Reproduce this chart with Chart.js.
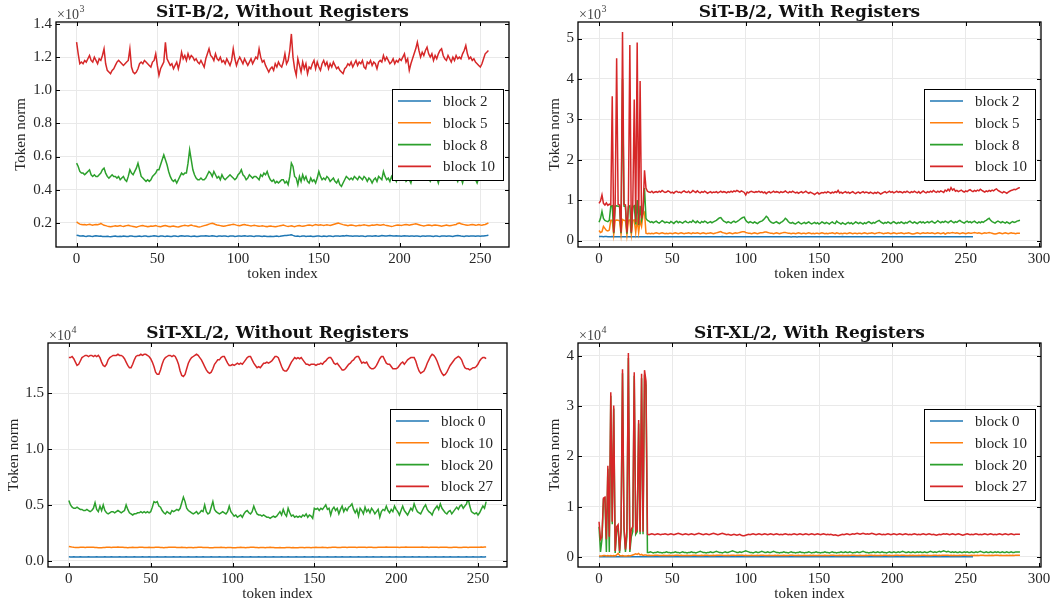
<!DOCTYPE html>
<html><head><meta charset="utf-8">
<script src="https://cdn.jsdelivr.net/npm/chart.js@4.4.1/dist/chart.umd.min.js"></script>
<style>
html,body{margin:0;padding:0;background:#fff;}
#wrap{position:relative;width:1058px;height:607px;overflow:hidden;background:#fff;}
canvas{position:absolute;left:0;top:0;}
</style></head><body>
<div id="wrap">
<canvas id="c1" width="1058" height="607"></canvas>
<canvas id="c2" width="1058" height="607"></canvas>
<canvas id="c3" width="1058" height="607"></canvas>
<canvas id="c4" width="1058" height="607"></canvas>
</div>
<script>
// ---------------- DATA (token norms, in the units shown on each axis) ----------------
const legendB = ['block 2','block 5','block 8','block 10'];
const legendXL = ['block 0','block 10','block 20','block 27'];
const xTicks256 = [0,50,100,150,200,250];
const xTicks288 = [0,50,100,150,200,250,300];
const yTicks1 = [0.2,0.4,0.6,0.8,1.0,1.2,1.4];
const yTicks2 = [0,1,2,3,4,5];
const yTicks3 = [0.0,0.5,1.0,1.5];
const yTicks4 = [0,1,2,3,4];

// SiT-B/2 without registers (x10^3)
const b1Block2 = [0.125,0.123,0.121,0.120,0.122,0.119,0.118,0.120,0.121,0.119,0.118,0.120,0.122,0.121,0.119,0.120,
0.118,0.117,0.118,0.119,0.117,0.116,0.118,0.119,0.120,0.118,0.117,0.119,0.118,0.120,0.119,0.117,
0.118,0.120,0.121,0.119,0.118,0.117,0.119,0.120,0.118,0.119,0.121,0.120,0.118,0.117,0.119,0.120,
0.122,0.121,0.119,0.118,0.120,0.121,0.119,0.118,0.120,0.119,0.117,0.118,0.120,0.121,0.119,0.118,
0.120,0.122,0.121,0.119,0.120,0.121,0.119,0.118,0.119,0.120,0.118,0.117,0.119,0.120,0.121,0.120,
0.122,0.121,0.119,0.120,0.122,0.121,0.119,0.118,0.120,0.121,0.119,0.120,0.121,0.119,0.118,0.120,
0.121,0.120,0.118,0.119,0.121,0.120,0.119,0.121,0.122,0.120,0.119,0.120,0.121,0.119,0.118,0.120,
0.121,0.120,0.119,0.118,0.120,0.119,0.118,0.117,0.119,0.118,0.117,0.119,0.120,0.118,0.119,0.121,
0.122,0.123,0.124,0.125,0.126,0.128,0.124,0.121,0.119,0.120,0.118,0.119,0.121,0.120,0.118,0.119,
0.119,0.120,0.118,0.117,0.119,0.120,0.121,0.119,0.118,0.120,0.119,0.118,0.120,0.121,0.119,0.118,
0.120,0.121,0.120,0.119,0.121,0.122,0.121,0.123,0.122,0.120,0.121,0.119,0.120,0.121,0.120,0.119,
0.120,0.121,0.119,0.118,0.120,0.121,0.120,0.119,0.121,0.122,0.120,0.119,0.121,0.123,0.122,0.120,
0.121,0.122,0.123,0.122,0.121,0.120,0.122,0.121,0.120,0.119,0.121,0.122,0.121,0.120,0.119,0.121,
0.120,0.119,0.121,0.120,0.119,0.118,0.120,0.121,0.119,0.120,0.121,0.120,0.119,0.118,0.120,0.121,
0.119,0.118,0.120,0.121,0.120,0.119,0.121,0.120,0.119,0.118,0.120,0.122,0.124,0.122,0.120,0.119,
0.118,0.120,0.121,0.119,0.120,0.121,0.120,0.119,0.121,0.120,0.119,0.120,0.121,0.122,0.123,0.125];
const b1Block5 = [0.205,0.198,0.192,0.190,0.188,0.190,0.187,0.189,0.191,0.188,0.186,0.189,0.190,0.188,0.191,0.196,
0.190,0.185,0.183,0.180,0.178,0.176,0.178,0.180,0.182,0.179,0.181,0.183,0.180,0.178,0.181,0.183,
0.185,0.182,0.180,0.178,0.176,0.174,0.177,0.180,0.182,0.184,0.181,0.179,0.177,0.178,0.180,0.179,
0.181,0.183,0.180,0.178,0.176,0.179,0.182,0.184,0.181,0.178,0.177,0.179,0.180,0.178,0.176,0.175,
0.178,0.181,0.183,0.185,0.183,0.181,0.184,0.186,0.183,0.181,0.179,0.176,0.175,0.177,0.180,0.183,
0.185,0.188,0.192,0.195,0.197,0.194,0.190,0.187,0.185,0.183,0.181,0.179,0.181,0.183,0.185,0.187,
0.189,0.191,0.189,0.186,0.184,0.182,0.185,0.188,0.190,0.187,0.185,0.183,0.181,0.183,0.185,0.183,
0.181,0.179,0.180,0.182,0.180,0.178,0.177,0.179,0.181,0.179,0.178,0.176,0.178,0.180,0.182,0.184,
0.186,0.183,0.180,0.178,0.180,0.182,0.179,0.177,0.180,0.182,0.184,0.181,0.179,0.181,0.183,0.185,
0.187,0.185,0.183,0.186,0.189,0.187,0.185,0.188,0.186,0.184,0.186,0.188,0.186,0.184,0.187,0.190,
0.193,0.196,0.198,0.195,0.192,0.189,0.187,0.185,0.183,0.185,0.187,0.185,0.183,0.181,0.183,0.185,
0.184,0.186,0.188,0.186,0.184,0.182,0.184,0.186,0.185,0.187,0.189,0.187,0.185,0.187,0.189,0.186,
0.184,0.182,0.180,0.178,0.180,0.183,0.185,0.187,0.186,0.184,0.186,0.188,0.190,0.188,0.186,0.188,
0.190,0.192,0.194,0.191,0.188,0.185,0.183,0.181,0.183,0.185,0.187,0.185,0.183,0.185,0.187,0.186,
0.184,0.182,0.180,0.182,0.184,0.186,0.184,0.182,0.184,0.186,0.188,0.190,0.196,0.198,0.194,0.191,
0.189,0.187,0.185,0.186,0.188,0.190,0.188,0.186,0.187,0.189,0.187,0.186,0.188,0.190,0.194,0.200];
const b1Block8 = [0.56,0.54,0.51,0.50,0.50,0.49,0.50,0.51,0.52,0.49,0.48,0.49,0.48,0.48,0.49,0.50,
0.52,0.53,0.50,0.48,0.47,0.48,0.49,0.48,0.48,0.47,0.48,0.46,0.47,0.48,0.46,0.45,
0.48,0.52,0.50,0.49,0.51,0.53,0.56,0.52,0.48,0.47,0.46,0.45,0.46,0.45,0.46,0.48,
0.49,0.50,0.52,0.52,0.55,0.58,0.61,0.58,0.55,0.51,0.48,0.46,0.45,0.46,0.44,0.46,
0.48,0.50,0.49,0.50,0.50,0.56,0.64,0.58,0.52,0.49,0.47,0.46,0.46,0.47,0.46,0.46,
0.47,0.49,0.51,0.50,0.48,0.51,0.49,0.47,0.48,0.46,0.49,0.47,0.46,0.47,0.48,0.49,
0.48,0.47,0.46,0.47,0.49,0.50,0.52,0.49,0.48,0.46,0.47,0.49,0.48,0.47,0.48,0.48,
0.47,0.46,0.49,0.48,0.50,0.49,0.51,0.48,0.46,0.45,0.46,0.44,0.45,0.44,0.45,0.46,
0.46,0.44,0.45,0.43,0.48,0.56,0.54,0.48,0.47,0.43,0.48,0.45,0.49,0.46,0.48,0.45,
0.44,0.47,0.45,0.46,0.44,0.47,0.51,0.48,0.46,0.47,0.46,0.48,0.47,0.45,0.46,0.47,
0.45,0.44,0.46,0.43,0.42,0.44,0.46,0.48,0.47,0.46,0.47,0.46,0.48,0.47,0.46,0.48,
0.47,0.46,0.48,0.47,0.45,0.47,0.46,0.44,0.46,0.47,0.45,0.48,0.47,0.46,0.51,0.48,
0.46,0.47,0.45,0.48,0.46,0.47,0.45,0.48,0.46,0.47,0.46,0.48,0.45,0.46,0.46,0.44,
0.48,0.46,0.47,0.49,0.47,0.46,0.48,0.47,0.46,0.48,0.47,0.45,0.47,0.46,0.48,0.47,
0.44,0.48,0.47,0.46,0.48,0.47,0.49,0.47,0.46,0.48,0.46,0.47,0.45,0.48,0.47,0.44,
0.48,0.47,0.46,0.48,0.47,0.49,0.47,0.46,0.44,0.47,0.46,0.48,0.47,0.46,0.48,0.47];
const b1Block10 = [1.29,1.22,1.16,1.17,1.16,1.18,1.17,1.19,1.21,1.18,1.17,1.20,1.18,1.16,1.19,1.18,
1.21,1.25,1.16,1.12,1.11,1.10,1.12,1.13,1.15,1.17,1.18,1.17,1.16,1.15,1.16,1.17,
1.18,1.25,1.14,1.11,1.10,1.11,1.13,1.16,1.17,1.16,1.18,1.17,1.16,1.15,1.14,1.17,
1.18,1.22,1.15,1.09,1.13,1.15,1.17,1.29,1.19,1.17,1.15,1.16,1.13,1.15,1.17,1.13,
1.17,1.23,1.19,1.21,1.18,1.22,1.19,1.21,1.20,1.18,1.19,1.17,1.16,1.18,1.16,1.14,
1.19,1.22,1.25,1.21,1.20,1.18,1.22,1.19,1.18,1.20,1.17,1.18,1.16,1.19,1.17,1.15,
1.18,1.25,1.19,1.15,1.18,1.20,1.18,1.16,1.19,1.17,1.15,1.17,1.19,1.16,1.18,1.20,
1.19,1.25,1.20,1.17,1.18,1.15,1.13,1.11,1.13,1.14,1.12,1.16,1.14,1.17,1.15,1.14,
1.17,1.22,1.16,1.18,1.24,1.34,1.20,1.13,1.09,1.19,1.15,1.11,1.17,1.13,1.16,1.10,
1.14,1.13,1.16,1.18,1.13,1.17,1.14,1.12,1.16,1.18,1.15,1.17,1.13,1.16,1.14,1.17,
1.15,1.13,1.14,1.12,1.11,1.10,1.13,1.14,1.16,1.15,1.17,1.14,1.16,1.18,1.15,1.17,
1.16,1.18,1.14,1.13,1.17,1.16,1.18,1.15,1.17,1.16,1.13,1.17,1.18,1.17,1.21,1.18,
1.20,1.18,1.16,1.17,1.19,1.16,1.18,1.17,1.19,1.18,1.20,1.22,1.17,1.19,1.12,1.16,
1.19,1.22,1.25,1.29,1.24,1.20,1.23,1.21,1.24,1.26,1.22,1.20,1.22,1.18,1.21,1.19,
1.22,1.24,1.25,1.21,1.19,1.18,1.21,1.19,1.17,1.20,1.18,1.21,1.19,1.20,1.19,1.22,
1.24,1.27,1.22,1.19,1.20,1.18,1.19,1.17,1.16,1.15,1.14,1.16,1.19,1.22,1.23,1.24];

// SiT-B/2 with registers (x10^3)
const b2Block2 = [0.100,0.098,0.097,0.096,0.097,0.098,0.096,0.095,0.096,0.097,0.095,0.094,0.095,0.096,0.095,0.094,
0.095,0.094,0.093,0.094,0.095,0.094,0.093,0.092,0.093,0.094,0.093,0.092,0.093,0.094,0.093,0.092,
0.093,0.094,0.095,0.094,0.093,0.092,0.093,0.094,0.095,0.094,0.093,0.094,0.095,0.096,0.095,0.094,
0.093,0.094,0.095,0.094,0.093,0.094,0.095,0.094,0.093,0.092,0.093,0.094,0.093,0.094,0.095,0.094,
0.095,0.096,0.095,0.094,0.093,0.094,0.095,0.096,0.095,0.094,0.095,0.094,0.093,0.094,0.095,0.094,
0.093,0.094,0.095,0.096,0.097,0.096,0.095,0.094,0.095,0.094,0.093,0.094,0.095,0.094,0.093,0.094,
0.095,0.094,0.093,0.092,0.093,0.094,0.093,0.094,0.095,0.094,0.093,0.092,0.093,0.094,0.093,0.092,
0.093,0.092,0.091,0.092,0.093,0.092,0.093,0.094,0.093,0.092,0.091,0.092,0.093,0.092,0.091,0.092,
0.093,0.092,0.091,0.090,0.091,0.092,0.091,0.090,0.091,0.092,0.093,0.092,0.091,0.092,0.093,0.092,
0.091,0.092,0.093,0.094,0.093,0.092,0.093,0.094,0.095,0.094,0.093,0.094,0.095,0.094,0.093,0.094,
0.095,0.096,0.095,0.094,0.095,0.096,0.097,0.096,0.095,0.094,0.095,0.096,0.095,0.094,0.095,0.094,
0.093,0.094,0.095,0.094,0.093,0.092,0.093,0.094,0.095,0.094,0.093,0.094,0.095,0.096,0.095,0.094,
0.095,0.094,0.093,0.094,0.095,0.094,0.093,0.094,0.095,0.096,0.095,0.094,0.093,0.094,0.095,0.094,
0.093,0.094,0.095,0.094,0.093,0.094,0.093,0.092,0.093,0.094,0.095,0.094,0.093,0.092,0.093,0.094,
0.093,0.092,0.093,0.094,0.095,0.094,0.093,0.094,0.095,0.094,0.093,0.092,0.093,0.094,0.093,0.092,
0.093,0.094,0.093,0.092,0.093,0.094,0.095,0.094,0.093,0.094,0.095,0.094,0.093,0.094,0.095,0.094];
const b2Block5 = [0.25,0.20,0.22,0.35,0.30,0.25,0.24,0.26,0.50,0.50,0.15,0.50,0.51,0.50,0.49,0.15,0.52,0.50,0.49,0.14,0.50,0.51,0.15,0.50,0.51,0.20,0.52,0.20,0.50,0.35,0.65,0.70,0.18,0.17,
0.18,0.17,0.18,0.17,0.18,0.19,0.18,0.17,0.18,0.19,0.18,0.17,0.18,0.17,0.18,0.18,
0.17,0.18,0.19,0.18,0.17,0.18,0.19,0.18,0.17,0.18,0.18,0.19,0.18,0.17,0.19,0.18,
0.18,0.19,0.18,0.17,0.18,0.19,0.18,0.17,0.18,0.18,0.19,0.18,0.17,0.18,0.19,0.20,
0.21,0.22,0.20,0.19,0.18,0.17,0.18,0.19,0.18,0.17,0.18,0.19,0.18,0.19,0.20,0.21,
0.22,0.22,0.20,0.19,0.18,0.18,0.17,0.18,0.19,0.18,0.17,0.18,0.19,0.19,0.20,0.21,
0.21,0.20,0.19,0.18,0.18,0.17,0.18,0.19,0.18,0.17,0.18,0.19,0.20,0.20,0.19,0.18,
0.18,0.17,0.18,0.18,0.17,0.18,0.19,0.18,0.17,0.18,0.18,0.17,0.18,0.19,0.18,0.17,
0.18,0.17,0.18,0.18,0.17,0.18,0.19,0.18,0.17,0.18,0.17,0.18,0.18,0.19,0.18,0.17,
0.19,0.18,0.17,0.18,0.17,0.18,0.18,0.17,0.18,0.19,0.18,0.17,0.18,0.18,0.17,0.18,
0.18,0.17,0.18,0.19,0.18,0.17,0.18,0.18,0.19,0.18,0.17,0.18,0.19,0.20,0.19,0.18,
0.17,0.18,0.18,0.19,0.18,0.17,0.18,0.19,0.18,0.17,0.18,0.18,0.19,0.18,0.17,0.18,
0.18,0.19,0.18,0.17,0.16,0.17,0.18,0.19,0.18,0.17,0.18,0.19,0.18,0.18,0.19,0.18,
0.18,0.19,0.18,0.17,0.18,0.19,0.18,0.17,0.18,0.19,0.16,0.18,0.19,0.18,0.19,0.20,
0.19,0.18,0.19,0.18,0.17,0.18,0.19,0.18,0.17,0.18,0.19,0.18,0.18,0.19,0.20,0.19,
0.18,0.19,0.18,0.17,0.18,0.19,0.18,0.19,0.20,0.19,0.18,0.17,0.16,0.17,0.18,0.19,
0.18,0.17,0.18,0.19,0.18,0.17,0.18,0.19,0.18,0.18,0.17,0.18,0.18,0.18];
const b2Block8 = [0.45,0.55,0.72,0.55,0.50,0.48,0.47,0.50,0.85,0.86,0.18,0.85,0.86,0.85,0.84,0.18,4.00,0.85,0.84,0.17,0.84,0.86,0.18,0.84,0.86,0.40,1.00,0.38,0.86,0.52,0.70,1.30,0.55,0.50,
0.48,0.45,0.47,0.44,0.46,0.48,0.45,0.43,0.46,0.49,0.47,0.44,0.46,0.45,0.43,0.47,
0.45,0.42,0.46,0.48,0.44,0.47,0.45,0.43,0.46,0.48,0.45,0.44,0.47,0.45,0.50,0.46,
0.44,0.48,0.45,0.43,0.47,0.45,0.48,0.46,0.43,0.45,0.47,0.44,0.46,0.48,0.50,0.53,
0.56,0.57,0.52,0.48,0.46,0.44,0.47,0.45,0.43,0.46,0.48,0.45,0.47,0.49,0.52,0.55,
0.57,0.58,0.50,0.46,0.44,0.47,0.45,0.43,0.46,0.44,0.42,0.45,0.47,0.48,0.51,0.55,
0.60,0.57,0.50,0.46,0.44,0.43,0.45,0.47,0.44,0.42,0.45,0.47,0.50,0.55,0.52,0.47,
0.44,0.43,0.45,0.42,0.41,0.44,0.46,0.43,0.41,0.43,0.45,0.42,0.44,0.46,0.43,0.41,
0.43,0.45,0.42,0.44,0.41,0.43,0.46,0.44,0.42,0.45,0.43,0.41,0.44,0.46,0.43,0.42,
0.48,0.45,0.43,0.41,0.44,0.42,0.40,0.43,0.45,0.42,0.44,0.41,0.43,0.46,0.44,0.42,
0.45,0.43,0.41,0.44,0.42,0.45,0.47,0.44,0.42,0.45,0.43,0.46,0.48,0.50,0.46,0.44,
0.42,0.45,0.43,0.46,0.44,0.42,0.45,0.47,0.44,0.42,0.45,0.43,0.46,0.44,0.42,0.45,
0.43,0.46,0.48,0.45,0.43,0.46,0.44,0.42,0.45,0.47,0.44,0.46,0.43,0.45,0.47,0.44,
0.46,0.48,0.45,0.43,0.46,0.49,0.46,0.44,0.47,0.45,0.48,0.46,0.44,0.47,0.49,0.46,
0.44,0.47,0.45,0.48,0.50,0.47,0.45,0.43,0.46,0.48,0.45,0.47,0.44,0.46,0.48,0.45,
0.43,0.46,0.44,0.47,0.45,0.48,0.50,0.53,0.55,0.50,0.47,0.45,0.43,0.46,0.48,0.46,
0.44,0.47,0.45,0.43,0.46,0.44,0.42,0.45,0.47,0.45,0.46,0.48,0.49,0.50];
const b2Block10 = [0.92,0.98,1.13,0.92,0.88,0.93,0.87,0.90,0.88,3.57,0.20,0.90,4.51,0.90,0.88,0.20,5.16,0.90,0.88,0.20,0.88,4.84,0.20,0.88,3.49,0.45,4.90,0.40,3.95,0.55,0.75,1.74,1.30,1.22,
1.20,1.19,1.22,1.18,1.20,1.21,1.19,1.22,1.20,1.24,1.21,1.19,1.20,1.23,1.21,1.18,
1.20,1.17,1.21,1.22,1.19,1.20,1.18,1.21,1.23,1.20,1.19,1.22,1.18,1.20,1.24,1.21,
1.19,1.23,1.20,1.18,1.21,1.19,1.22,1.20,1.17,1.19,1.21,1.18,1.20,1.19,1.21,1.18,
1.20,1.22,1.19,1.21,1.20,1.18,1.21,1.19,1.22,1.20,1.23,1.21,1.24,1.22,1.20,1.23,
1.21,1.19,1.13,1.20,1.18,1.21,1.22,1.20,1.19,1.21,1.20,1.22,1.19,1.21,1.18,1.20,
1.16,1.19,1.21,1.18,1.20,1.22,1.19,1.21,1.20,1.18,1.21,1.19,1.20,1.23,1.20,1.18,
1.21,1.19,1.22,1.20,1.18,1.20,1.17,1.19,1.21,1.18,1.20,1.22,1.19,1.17,1.20,1.18,
1.16,1.14,1.17,1.19,1.15,1.17,1.19,1.18,1.20,1.18,1.21,1.19,1.17,1.20,1.18,1.21,
1.19,1.24,1.18,1.20,1.17,1.19,1.21,1.18,1.20,1.17,1.19,1.21,1.18,1.16,1.19,1.20,
1.17,1.19,1.21,1.18,1.20,1.19,1.17,1.20,1.18,1.16,1.19,1.17,1.20,1.18,1.15,1.17,
1.19,1.21,1.18,1.20,1.22,1.19,1.21,1.18,1.20,1.22,1.19,1.21,1.20,1.18,1.21,1.19,
1.22,1.20,1.18,1.21,1.19,1.22,1.20,1.18,1.21,1.17,1.20,1.23,1.20,1.18,1.21,1.19,
1.22,1.20,1.24,1.21,1.19,1.22,1.20,1.23,1.21,1.19,1.25,1.22,1.27,1.23,1.31,1.25,
1.28,1.22,1.24,1.21,1.23,1.25,1.22,1.20,1.23,1.21,1.24,1.26,1.23,1.21,1.24,1.22,
1.25,1.23,1.27,1.24,1.22,1.20,1.23,1.21,1.24,1.22,1.25,1.23,1.26,1.28,1.24,1.22,
1.20,1.18,1.21,1.19,1.17,1.20,1.22,1.24,1.25,1.27,1.26,1.28,1.30,1.31];

// SiT-XL/2 without registers (x10^4)
const xl1Block0 = [0.035,0.034,0.034,0.035,0.034,0.033,0.034,0.035,0.034,0.034,0.033,0.034,0.035,0.034,0.034,0.033,
0.034,0.035,0.034,0.033,0.034,0.034,0.035,0.034,0.033,0.034,0.035,0.034,0.034,0.033,0.034,0.035,
0.034,0.033,0.034,0.035,0.034,0.034,0.033,0.034,0.035,0.034,0.033,0.034,0.034,0.035,0.034,0.033,
0.034,0.035,0.034,0.034,0.033,0.034,0.035,0.034,0.033,0.034,0.034,0.035,0.034,0.033,0.034,0.034,
0.035,0.034,0.033,0.034,0.035,0.034,0.034,0.033,0.034,0.035,0.034,0.033,0.034,0.034,0.035,0.034,
0.033,0.034,0.035,0.034,0.034,0.033,0.034,0.035,0.034,0.033,0.034,0.034,0.035,0.034,0.033,0.034,
0.034,0.035,0.034,0.033,0.034,0.035,0.034,0.034,0.033,0.034,0.035,0.034,0.033,0.034,0.034,0.035,
0.034,0.033,0.034,0.034,0.035,0.034,0.033,0.034,0.035,0.034,0.034,0.033,0.034,0.035,0.034,0.033,
0.034,0.034,0.035,0.034,0.033,0.034,0.035,0.034,0.034,0.033,0.034,0.035,0.034,0.033,0.034,0.034,
0.035,0.034,0.033,0.034,0.034,0.035,0.034,0.033,0.034,0.035,0.034,0.034,0.033,0.034,0.035,0.034,
0.033,0.034,0.034,0.035,0.034,0.033,0.034,0.035,0.034,0.034,0.033,0.034,0.035,0.034,0.033,0.034,
0.034,0.035,0.034,0.033,0.034,0.034,0.035,0.034,0.033,0.034,0.035,0.034,0.034,0.033,0.034,0.035,
0.034,0.033,0.034,0.034,0.035,0.034,0.033,0.034,0.035,0.034,0.034,0.033,0.034,0.035,0.034,0.033,
0.034,0.034,0.035,0.034,0.033,0.034,0.035,0.034,0.034,0.033,0.034,0.035,0.034,0.033,0.034,0.034,
0.035,0.034,0.033,0.034,0.034,0.035,0.034,0.033,0.034,0.035,0.034,0.034,0.033,0.034,0.035,0.034,
0.033,0.034,0.034,0.035,0.034,0.033,0.034,0.035,0.034,0.034,0.033,0.034,0.035,0.034,0.034,0.035];
const xl1Block10 = [0.128,0.125,0.122,0.120,0.119,0.118,0.119,0.120,0.121,0.120,0.119,0.120,0.121,0.122,0.121,0.120,
0.119,0.118,0.117,0.116,0.117,0.118,0.119,0.120,0.121,0.120,0.119,0.120,0.121,0.122,0.123,0.122,
0.121,0.120,0.119,0.118,0.117,0.118,0.119,0.120,0.119,0.118,0.119,0.120,0.121,0.120,0.119,0.118,
0.119,0.120,0.119,0.118,0.119,0.120,0.121,0.120,0.119,0.118,0.117,0.118,0.119,0.120,0.121,0.122,
0.121,0.120,0.119,0.118,0.119,0.120,0.119,0.118,0.117,0.118,0.119,0.118,0.117,0.118,0.119,0.120,
0.121,0.120,0.119,0.118,0.119,0.118,0.117,0.116,0.117,0.118,0.119,0.118,0.119,0.120,0.119,0.118,
0.117,0.118,0.119,0.118,0.117,0.116,0.117,0.118,0.119,0.120,0.119,0.118,0.117,0.118,0.119,0.120,
0.121,0.120,0.119,0.118,0.117,0.118,0.119,0.118,0.117,0.118,0.119,0.120,0.119,0.118,0.117,0.116,
0.117,0.118,0.117,0.116,0.117,0.118,0.119,0.118,0.117,0.118,0.117,0.116,0.117,0.118,0.119,0.118,
0.117,0.118,0.119,0.118,0.117,0.118,0.119,0.120,0.119,0.118,0.119,0.120,0.119,0.118,0.117,0.118,
0.119,0.120,0.121,0.120,0.119,0.118,0.119,0.120,0.121,0.120,0.119,0.120,0.121,0.122,0.121,0.120,
0.119,0.120,0.121,0.122,0.121,0.120,0.119,0.120,0.121,0.120,0.119,0.118,0.119,0.120,0.121,0.120,
0.121,0.122,0.123,0.122,0.121,0.120,0.121,0.122,0.121,0.120,0.119,0.120,0.121,0.122,0.123,0.122,
0.121,0.120,0.121,0.122,0.121,0.120,0.121,0.122,0.123,0.122,0.121,0.120,0.119,0.120,0.121,0.122,
0.121,0.120,0.119,0.120,0.121,0.122,0.121,0.120,0.119,0.118,0.119,0.120,0.121,0.120,0.119,0.118,
0.119,0.120,0.121,0.120,0.119,0.120,0.121,0.122,0.121,0.120,0.121,0.122,0.123,0.122,0.123,0.124];
const xl1Block20 = [0.54,0.50,0.48,0.47,0.47,0.48,0.47,0.46,0.46,0.45,0.45,0.46,0.45,0.44,0.45,0.47,
0.52,0.46,0.44,0.49,0.45,0.50,0.45,0.43,0.42,0.43,0.44,0.44,0.43,0.44,0.45,0.44,
0.43,0.44,0.45,0.50,0.46,0.43,0.42,0.41,0.42,0.42,0.43,0.43,0.44,0.43,0.44,0.43,
0.44,0.43,0.44,0.48,0.53,0.52,0.53,0.49,0.48,0.45,0.43,0.42,0.44,0.43,0.42,0.45,
0.44,0.45,0.46,0.45,0.47,0.52,0.57,0.53,0.47,0.45,0.44,0.43,0.42,0.43,0.44,0.42,
0.43,0.45,0.44,0.50,0.44,0.42,0.43,0.48,0.53,0.46,0.44,0.43,0.42,0.43,0.44,0.43,
0.42,0.44,0.49,0.44,0.42,0.40,0.41,0.39,0.40,0.41,0.39,0.42,0.44,0.45,0.43,0.42,
0.44,0.49,0.45,0.42,0.41,0.41,0.40,0.41,0.40,0.39,0.39,0.38,0.39,0.40,0.39,0.40,
0.42,0.44,0.41,0.46,0.42,0.40,0.47,0.43,0.40,0.41,0.39,0.40,0.39,0.40,0.39,0.41,
0.40,0.42,0.39,0.41,0.40,0.38,0.47,0.46,0.47,0.45,0.47,0.46,0.48,0.50,0.46,0.47,
0.41,0.46,0.48,0.45,0.47,0.42,0.46,0.49,0.44,0.47,0.45,0.48,0.49,0.51,0.46,0.43,
0.46,0.40,0.47,0.45,0.42,0.48,0.44,0.46,0.43,0.47,0.45,0.42,0.44,0.46,0.39,0.44,
0.46,0.45,0.49,0.45,0.43,0.46,0.44,0.49,0.46,0.44,0.41,0.45,0.49,0.45,0.43,0.41,
0.44,0.47,0.45,0.51,0.47,0.44,0.43,0.42,0.45,0.48,0.50,0.46,0.44,0.43,0.41,0.45,
0.47,0.49,0.46,0.51,0.47,0.45,0.43,0.42,0.44,0.45,0.42,0.44,0.46,0.48,0.46,0.49,
0.50,0.47,0.49,0.51,0.56,0.49,0.44,0.43,0.42,0.43,0.41,0.43,0.46,0.49,0.47,0.53];
const xl1Block27 = [1.82,1.82,1.83,1.81,1.78,1.75,1.76,1.79,1.82,1.83,1.84,1.84,1.83,1.84,1.84,1.83,
1.84,1.83,1.84,1.82,1.78,1.75,1.74,1.76,1.80,1.82,1.83,1.84,1.84,1.84,1.85,1.84,
1.84,1.83,1.81,1.78,1.75,1.73,1.73,1.76,1.80,1.83,1.84,1.84,1.85,1.84,1.85,1.85,
1.84,1.83,1.81,1.78,1.74,1.69,1.67,1.67,1.71,1.76,1.80,1.82,1.83,1.84,1.84,1.83,
1.84,1.83,1.80,1.76,1.70,1.66,1.65,1.67,1.72,1.77,1.80,1.82,1.83,1.84,1.85,1.84,
1.82,1.80,1.77,1.74,1.71,1.69,1.68,1.69,1.72,1.76,1.78,1.80,1.80,1.82,1.83,1.83,
1.80,1.77,1.75,1.75,1.76,1.75,1.76,1.77,1.76,1.77,1.76,1.78,1.80,1.82,1.83,1.83,
1.80,1.77,1.75,1.73,1.74,1.73,1.75,1.77,1.77,1.78,1.77,1.78,1.79,1.81,1.83,1.83,
1.82,1.78,1.74,1.71,1.70,1.70,1.72,1.75,1.78,1.80,1.82,1.81,1.82,1.81,1.82,1.80,
1.78,1.76,1.76,1.75,1.76,1.76,1.76,1.75,1.76,1.76,1.77,1.76,1.78,1.79,1.81,1.82,
1.82,1.80,1.77,1.76,1.77,1.75,1.73,1.71,1.71,1.72,1.74,1.76,1.77,1.79,1.80,1.82,
1.83,1.83,1.80,1.77,1.78,1.77,1.78,1.75,1.73,1.72,1.72,1.73,1.75,1.78,1.81,1.83,
1.83,1.80,1.77,1.76,1.76,1.74,1.72,1.72,1.72,1.73,1.75,1.77,1.78,1.76,1.78,1.80,
1.81,1.82,1.82,1.82,1.79,1.74,1.70,1.68,1.69,1.70,1.73,1.77,1.80,1.83,1.85,1.84,
1.82,1.79,1.75,1.71,1.68,1.66,1.67,1.69,1.72,1.75,1.77,1.79,1.81,1.82,1.83,1.82,
1.80,1.76,1.73,1.72,1.72,1.71,1.72,1.73,1.73,1.74,1.76,1.79,1.81,1.82,1.82,1.81];

// SiT-XL/2 with registers (x10^4)
const xl2Block0 = [0.004,0.003,0.003,0.004,0.003,0.003,0.004,0.003,0.003,0.004,0.003,0.003,0.004,0.003,0.003,0.004,
0.003,0.003,0.004,0.003,0.003,0.004,0.003,0.003,0.004,0.003,0.003,0.004,0.003,0.003,0.004,0.003,
0.003,0.003,0.003,0.003,0.003,0.003,0.003,0.003,0.003,0.003,0.003,0.003,0.003,0.003,0.003,0.003,
0.003,0.003,0.003,0.003,0.003,0.003,0.003,0.003,0.003,0.003,0.003,0.003,0.003,0.003,0.003,0.003,
0.003,0.003,0.003,0.003,0.003,0.003,0.003,0.003,0.003,0.003,0.003,0.003,0.003,0.003,0.003,0.003,
0.003,0.003,0.003,0.003,0.003,0.003,0.003,0.003,0.003,0.003,0.003,0.003,0.003,0.003,0.003,0.003,
0.003,0.003,0.003,0.003,0.003,0.003,0.003,0.003,0.003,0.003,0.003,0.003,0.003,0.003,0.003,0.003,
0.003,0.003,0.003,0.003,0.003,0.003,0.003,0.003,0.003,0.003,0.003,0.003,0.003,0.003,0.003,0.003,
0.003,0.003,0.003,0.003,0.003,0.003,0.003,0.003,0.003,0.003,0.003,0.003,0.003,0.003,0.003,0.003,
0.003,0.003,0.003,0.003,0.003,0.003,0.003,0.003,0.003,0.003,0.003,0.003,0.003,0.003,0.003,0.003,
0.003,0.003,0.003,0.003,0.003,0.003,0.003,0.003,0.003,0.003,0.003,0.003,0.003,0.003,0.003,0.003,
0.003,0.003,0.003,0.003,0.003,0.003,0.003,0.003,0.003,0.003,0.003,0.003,0.003,0.003,0.003,0.003,
0.003,0.003,0.003,0.003,0.003,0.003,0.003,0.003,0.003,0.003,0.003,0.003,0.003,0.003,0.003,0.003,
0.003,0.003,0.003,0.003,0.003,0.003,0.003,0.003,0.003,0.003,0.003,0.003,0.003,0.003,0.003,0.003,
0.003,0.003,0.003,0.003,0.003,0.003,0.003,0.003,0.003,0.003,0.003,0.003,0.003,0.003,0.003,0.003,
0.003,0.003,0.003,0.003,0.003,0.003,0.003,0.003,0.003,0.003,0.003,0.003,0.003,0.003,0.003,0.003];
const xl2Block10 = [0.02,0.02,0.02,0.03,0.03,0.02,0.03,0.02,0.03,0.02,0.03,0.02,0.04,0.07,0.03,0.02,0.03,0.02,0.02,0.02,0.03,0.02,0.03,0.04,0.05,0.06,0.05,0.07,0.04,0.05,0.03,0.04,0.04,
0.030,0.031,0.030,0.029,0.030,0.031,0.032,0.031,0.030,0.029,0.030,0.031,0.030,0.029,0.030,
0.031,0.030,0.029,0.030,0.031,0.032,0.031,0.030,0.031,0.030,0.029,0.030,0.031,0.030,0.029,
0.030,0.031,0.032,0.031,0.030,0.029,0.030,0.031,0.030,0.031,0.032,0.031,0.030,0.029,0.030,
0.031,0.030,0.031,0.032,0.033,0.032,0.031,0.030,0.029,0.030,0.031,0.030,0.031,0.032,0.031,
0.030,0.031,0.032,0.033,0.032,0.031,0.030,0.031,0.030,0.029,0.030,0.031,0.030,0.029,0.030,
0.031,0.030,0.031,0.032,0.031,0.030,0.029,0.030,0.031,0.030,0.029,0.030,0.031,0.030,0.031,
0.030,0.029,0.030,0.031,0.030,0.029,0.030,0.031,0.032,0.031,0.030,0.029,0.030,0.031,0.030,
0.029,0.030,0.031,0.030,0.029,0.030,0.031,0.030,0.031,0.030,0.029,0.030,0.031,0.030,0.029,
0.030,0.031,0.030,0.029,0.030,0.031,0.032,0.031,0.030,0.029,0.030,0.031,0.030,0.031,0.030,
0.029,0.030,0.031,0.030,0.031,0.032,0.031,0.030,0.029,0.030,0.031,0.030,0.029,0.030,0.031,
0.030,0.031,0.032,0.031,0.030,0.031,0.030,0.029,0.030,0.031,0.030,0.031,0.032,0.031,0.030,
0.031,0.030,0.029,0.030,0.031,0.032,0.031,0.030,0.031,0.032,0.031,0.030,0.029,0.030,0.031,
0.030,0.031,0.030,0.029,0.030,0.031,0.030,0.031,0.032,0.031,0.030,0.031,0.030,0.029,0.030,
0.031,0.032,0.031,0.030,0.031,0.030,0.031,0.032,0.033,0.032,0.031,0.030,0.031,0.030,0.031,
0.030,0.029,0.030,0.031,0.030,0.031,0.032,0.031,0.030,0.029,0.030,0.031,0.030,0.031,0.030,
0.031,0.030,0.031,0.032,0.031,0.030,0.029,0.030,0.031,0.030,0.031,0.030,0.031,0.032,0.031,
0.030,0.031,0.030,0.029,0.030,0.031,0.030,0.031,0.030,0.031,0.030,0.031,0.031,0.031,0.031];
const xl2Block20 = [0.60,0.10,0.35,1.15,1.17,0.10,1.75,0.10,3.20,0.65,2.95,0.08,0.50,0.58,0.08,0.50,3.65,0.55,0.10,0.40,3.95,0.10,0.40,0.50,3.60,0.45,0.50,2.65,0.45,3.55,0.45,3.62,3.40,
0.09,0.09,0.10,0.09,0.08,0.09,0.09,0.10,0.09,0.09,0.08,0.09,0.09,0.10,0.09,
0.09,0.08,0.09,0.09,0.10,0.09,0.09,0.08,0.09,0.10,0.09,0.09,0.08,0.09,0.09,
0.10,0.09,0.09,0.08,0.09,0.10,0.11,0.10,0.09,0.09,0.08,0.09,0.09,0.10,0.09,
0.09,0.10,0.11,0.10,0.09,0.09,0.08,0.09,0.10,0.09,0.09,0.10,0.11,0.12,0.11,
0.10,0.09,0.09,0.10,0.09,0.10,0.11,0.12,0.11,0.10,0.09,0.09,0.08,0.09,0.10,
0.09,0.09,0.10,0.11,0.10,0.09,0.09,0.10,0.09,0.09,0.10,0.11,0.10,0.09,0.09,
0.08,0.09,0.09,0.10,0.09,0.09,0.08,0.09,0.10,0.09,0.09,0.08,0.09,0.09,0.10,
0.09,0.09,0.08,0.09,0.09,0.10,0.09,0.08,0.09,0.09,0.10,0.09,0.09,0.08,0.09,
0.09,0.10,0.09,0.09,0.08,0.09,0.10,0.09,0.09,0.08,0.09,0.09,0.10,0.09,0.09,
0.10,0.09,0.09,0.10,0.09,0.08,0.09,0.09,0.10,0.09,0.09,0.10,0.11,0.10,0.09,
0.09,0.08,0.09,0.09,0.10,0.09,0.09,0.10,0.09,0.09,0.10,0.09,0.09,0.08,0.09,
0.10,0.09,0.09,0.10,0.09,0.09,0.10,0.09,0.10,0.11,0.10,0.09,0.09,0.10,0.09,
0.09,0.10,0.09,0.09,0.10,0.09,0.10,0.09,0.09,0.10,0.09,0.09,0.10,0.11,0.10,
0.09,0.10,0.09,0.10,0.11,0.10,0.11,0.12,0.11,0.10,0.11,0.10,0.09,0.10,0.09,
0.10,0.09,0.09,0.10,0.09,0.09,0.10,0.09,0.10,0.09,0.09,0.10,0.09,0.09,0.10,
0.09,0.10,0.11,0.10,0.09,0.09,0.10,0.09,0.09,0.10,0.09,0.09,0.10,0.09,0.10,
0.09,0.09,0.10,0.09,0.09,0.10,0.09,0.09,0.10,0.09,0.09,0.10,0.10,0.10,0.10];
const xl2Block27 = [0.70,0.35,0.40,1.17,1.19,0.35,1.81,0.40,3.27,0.70,3.01,0.12,0.60,0.64,0.12,0.55,3.73,0.60,0.15,0.55,4.05,0.15,0.55,0.60,3.67,0.50,0.55,2.72,0.50,3.64,0.50,3.71,3.50,
0.45,0.44,0.45,0.46,0.45,0.44,0.45,0.46,0.45,0.44,0.45,0.45,0.46,0.45,0.44,
0.45,0.46,0.45,0.44,0.45,0.46,0.47,0.46,0.45,0.44,0.45,0.46,0.45,0.44,0.45,
0.46,0.45,0.44,0.45,0.46,0.47,0.46,0.45,0.44,0.45,0.46,0.45,0.44,0.45,0.46,
0.47,0.46,0.45,0.44,0.45,0.46,0.47,0.46,0.45,0.44,0.45,0.44,0.43,0.44,0.45,
0.44,0.43,0.44,0.45,0.43,0.42,0.42,0.43,0.44,0.45,0.44,0.45,0.46,0.45,0.44,
0.45,0.46,0.45,0.44,0.45,0.46,0.45,0.44,0.45,0.46,0.45,0.44,0.45,0.46,0.45,
0.44,0.45,0.44,0.45,0.46,0.45,0.44,0.45,0.44,0.45,0.46,0.45,0.44,0.45,0.46,
0.45,0.44,0.45,0.46,0.45,0.44,0.45,0.46,0.45,0.44,0.45,0.46,0.45,0.44,0.45,
0.46,0.45,0.44,0.45,0.44,0.45,0.44,0.43,0.44,0.43,0.42,0.43,0.44,0.45,0.44,
0.45,0.46,0.45,0.44,0.45,0.46,0.45,0.46,0.47,0.46,0.45,0.46,0.47,0.46,0.45,
0.46,0.45,0.46,0.47,0.46,0.45,0.44,0.45,0.46,0.45,0.44,0.45,0.44,0.45,0.46,
0.45,0.44,0.45,0.46,0.45,0.44,0.45,0.46,0.45,0.44,0.45,0.46,0.45,0.44,0.45,
0.44,0.45,0.46,0.45,0.44,0.45,0.44,0.45,0.46,0.45,0.44,0.45,0.46,0.45,0.44,
0.45,0.44,0.43,0.44,0.45,0.44,0.45,0.46,0.45,0.46,0.45,0.44,0.45,0.46,0.45,
0.44,0.45,0.46,0.45,0.44,0.43,0.44,0.45,0.46,0.45,0.44,0.45,0.44,0.45,0.46,
0.45,0.44,0.45,0.44,0.45,0.46,0.45,0.44,0.45,0.46,0.45,0.44,0.45,0.44,0.45,
0.46,0.45,0.44,0.45,0.46,0.45,0.44,0.45,0.46,0.45,0.44,0.45,0.45,0.45,0.45];

// ---------------- STYLE / LAYOUT ----------------
const COLORS = ['#1f77b4','#ff7f0e','#2ca02c','#d62728'];
const SERIF = '"Liberation Serif","Times New Roman",serif';
const TXT = '#262626';

const panels = [
  {id:'c1', title:'SiT-B/2, Without Registers', exp:'3', area:{l:56,r:509,t:22,b:247},
   xr:[-12.75,267.75], xt:xTicks256, yr:[0.054,1.412], yt:yTicks1, dec:1, ylabX:21,
   labels:legendB, series:[b1Block2,b1Block5,b1Block8,b1Block10]},
  {id:'c2', title:'SiT-B/2, With Registers', exp:'3', area:{l:578,r:1041,t:22,b:247},
   xr:[-14.35,301.35], xt:xTicks288, yr:[-0.16,5.41], yt:yTicks2, dec:0, ylabX:555,
   labels:legendB, series:[b2Block2,b2Block5,b2Block8,b2Block10]},
  {id:'c3', title:'SiT-XL/2, Without Registers', exp:'4', area:{l:48,r:507,t:343,b:567},
   xr:[-12.75,267.75], xt:xTicks256, yr:[-0.056,1.951], yt:yTicks3, dec:1, ylabX:14,
   labels:legendXL, series:[xl1Block0,xl1Block10,xl1Block20,xl1Block27]},
  {id:'c4', title:'SiT-XL/2, With Registers', exp:'4', area:{l:578,r:1041,t:343,b:567},
   xr:[-14.35,301.35], xt:xTicks288, yr:[-0.2,4.25], yt:yTicks4, dec:0, ylabX:555,
   labels:legendXL, series:[xl2Block0,xl2Block10,xl2Block20,xl2Block27]}
];

const YW = 40, XH = 24, W = 1058, H = 607;

const decor = {
  id:'decor',
  afterDatasetsDraw(chart){
    const p = chart.options.plugins.decor;
    const c = chart.ctx, a = chart.chartArea, xs = chart.scales.x, ys = chart.scales.y;
    c.save();
    // inward ticks on all sides
    c.strokeStyle = '#000'; c.lineWidth = 1;
    c.beginPath();
    xs.ticks.forEach(t => {
      const px = Math.round(xs.getPixelForValue(t.value)) + 0.5;
      c.moveTo(px, a.bottom); c.lineTo(px, a.bottom - 4);
      c.moveTo(px, a.top); c.lineTo(px, a.top + 4);
    });
    ys.ticks.forEach(t => {
      const py = Math.round(ys.getPixelForValue(t.value)) + 0.5;
      c.moveTo(a.left, py); c.lineTo(a.left + 4, py);
      c.moveTo(a.right, py); c.lineTo(a.right - 4, py);
    });
    c.stroke();
    // legend (center right)
    const LW = 112, LH = 92;
    const lr = a.right - 5, ll = lr - LW, lt = Math.round((a.top + a.bottom) / 2 - LH / 2);
    c.fillStyle = '#fff'; c.fillRect(ll, lt, LW, LH);
    c.strokeStyle = '#000'; c.lineWidth = 1; c.strokeRect(ll + 0.5, lt + 0.5, LW - 1, LH - 1);
    p.labels.forEach((lab, k) => {
      const yy = lt + 12 + k * 21.8;
      c.strokeStyle = COLORS[k]; c.lineWidth = 1.6;
      c.beginPath(); c.moveTo(ll + 6, yy); c.lineTo(ll + 39, yy); c.stroke();
      c.fillStyle = TXT; c.font = '15px ' + SERIF; c.textAlign = 'left'; c.textBaseline = 'middle';
      c.fillText(lab, ll + 51, yy + 1);
    });
    // frame
    c.strokeStyle = '#000'; c.lineWidth = 1.3;
    c.strokeRect(a.left, a.top, a.right - a.left, a.bottom - a.top);
    c.restore();
  },
  afterDraw(chart){
    const p = chart.options.plugins.decor;
    const c = chart.ctx, a = chart.chartArea;
    c.save();
    c.fillStyle = '#111';
    c.font = 'bold 17px "DejaVu Serif",serif'; c.textAlign = 'center'; c.textBaseline = 'alphabetic';
    c.fillText(p.title, (a.left + a.right) / 2, a.top - 5);
    // offset text
    c.fillStyle = '#444'; c.textAlign = 'left';
    c.font = '14px ' + SERIF;
    c.fillText('\u00d710', a.left + 1, a.top - 3);
    const w = c.measureText('\u00d710').width;
    c.font = '10px ' + SERIF;
    c.fillText(p.exp, a.left + 1 + w + 0.5, a.top - 10);
    // axis labels
    c.fillStyle = TXT; c.font = '15px ' + SERIF; c.textAlign = 'center';
    c.fillText('token index', (a.left + a.right) / 2, a.bottom + 31);
    c.translate(p.ylabX, (a.top + a.bottom) / 2); c.rotate(-Math.PI / 2);
    c.textBaseline = 'middle';
    c.fillText('Token norm', 0, 0);
    c.restore();
  }
};

panels.forEach(p => {
  const datasets = p.series.map((s, k) => ({
    label: p.labels[k],
    data: s.map((v, i) => ({x: i, y: v})),
    borderColor: COLORS[k],
    backgroundColor: COLORS[k],
    borderWidth: 1.5,
    pointRadius: 0,
    fill: false,
    tension: 0,
    order: 3 - k
  }));
  new Chart(document.getElementById(p.id), {
    type: 'line',
    data: {datasets},
    options: {
      responsive: false, animation: false, devicePixelRatio: 1,
      parsing: false, normalized: true,
      layout: {padding: {left: p.area.l - YW, right: W - p.area.r, top: p.area.t, bottom: H - p.area.b - XH}},
      scales: {
        x: {
          type: 'linear', min: p.xr[0], max: p.xr[1],
          afterFit(s){ s.height = XH; },
          afterBuildTicks(s){ s.ticks = p.xt.map(v => ({value: v})); },
          ticks: {autoSkip: false, maxRotation: 0, padding: 3, color: TXT,
                  font: {family: SERIF, size: 15}, callback: v => String(v)},
          grid: {color: '#e9e9e9', lineWidth: 1, drawTicks: false},
          border: {display: false}
        },
        y: {
          type: 'linear', min: p.yr[0], max: p.yr[1],
          afterFit(s){ s.width = YW; },
          afterBuildTicks(s){ s.ticks = p.yt.map(v => ({value: v})); },
          ticks: {autoSkip: false, padding: 4, color: TXT,
                  font: {family: SERIF, size: 15}, callback: v => v.toFixed(p.dec)},
          grid: {color: '#e9e9e9', lineWidth: 1, drawTicks: false},
          border: {display: false}
        }
      },
      plugins: {
        legend: {display: false}, tooltip: {enabled: false},
        decor: {title: p.title, exp: p.exp, labels: p.labels, ylabX: p.ylabX}
      }
    },
    plugins: [decor]
  });
});
</script>
</body></html>
